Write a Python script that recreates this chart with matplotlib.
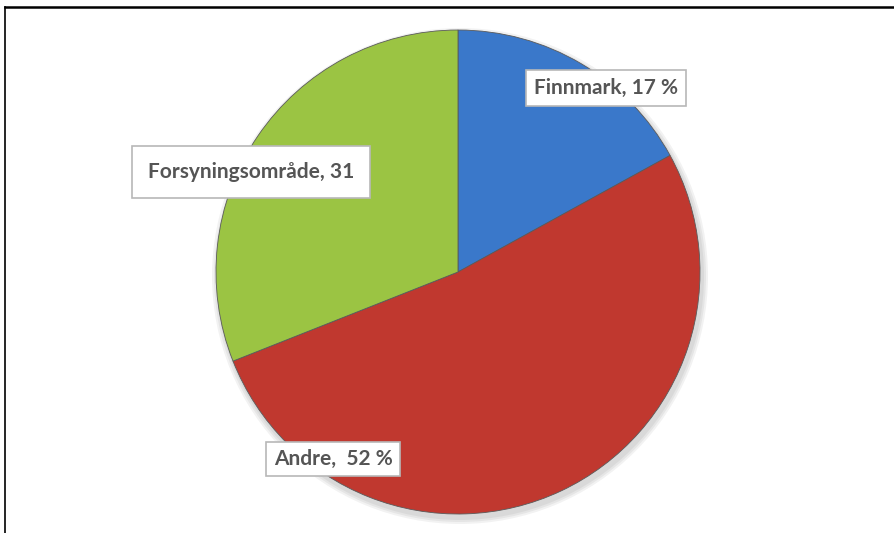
import matplotlib
matplotlib.use("Agg")
import matplotlib.pyplot as plt
from matplotlib.lines import Line2D

categories = ["Finnmark", "Andre", "Forsyningsområde"]
values = [17, 52, 31]
label_texts = ["Finnmark, 17 %", "Andre,  52 %", "Forsyningsområde, 31"]
colors = ["#3A78CA", "#C0382F", "#9BC443"]

W, H = 894, 533
fig = plt.figure(figsize=(W / 100, H / 100), dpi=100)
ax = fig.add_axes([0, 0, 1, 1])
ax.set_aspect("equal")

cx, cy, r = 458, H - 272, 242

# soft shadow
for i in range(3):
    ax.pie([1], colors=["#000000"], radius=r + 2 + i * 2, center=(cx + 2, cy - 4),
           wedgeprops=dict(alpha=0.05, linewidth=0), frame=True)

wedges, _ = ax.pie(values, colors=colors, startangle=90, counterclock=False,
                   radius=r, center=(cx, cy), frame=True,
                   wedgeprops=dict(edgecolor="#5a5a5a", linewidth=0.6))

ax.set_xlim(0, W)
ax.set_ylim(0, H)
ax.axis("off")

# label positions (pixel coords, top-left origin)
label_pos = {"Finnmark": (606, 88), "Andre": (333, 459), "Forsyningsområde": (251, 172)}
pads = {"Finnmark": 0.4, "Andre": 0.35, "Forsyningsområde": 0.75}
for cat, txt in zip(categories, label_texts):
    x, y = label_pos[cat]
    ax.text(x, H - y, txt, ha="center", va="center", fontsize=15,
            family=["Lato", "DejaVu Sans"], fontweight="bold", color="#555555",
            bbox=dict(boxstyle=f"square,pad={pads[cat]}", fc="white",
                      ec="#b8b8b8", lw=1.2), zorder=10)

# frame lines
fig.add_artist(Line2D([5 / W, 1], [1 - 7 / H, 1 - 7 / H], color="black", lw=1.8,
                      transform=fig.transFigure))
fig.add_artist(Line2D([5 / W, 5 / W], [0, 1 - 7 / H], color="black", lw=1.2,
                      transform=fig.transFigure))

fig.savefig("out.png", dpi=100, facecolor="white")
